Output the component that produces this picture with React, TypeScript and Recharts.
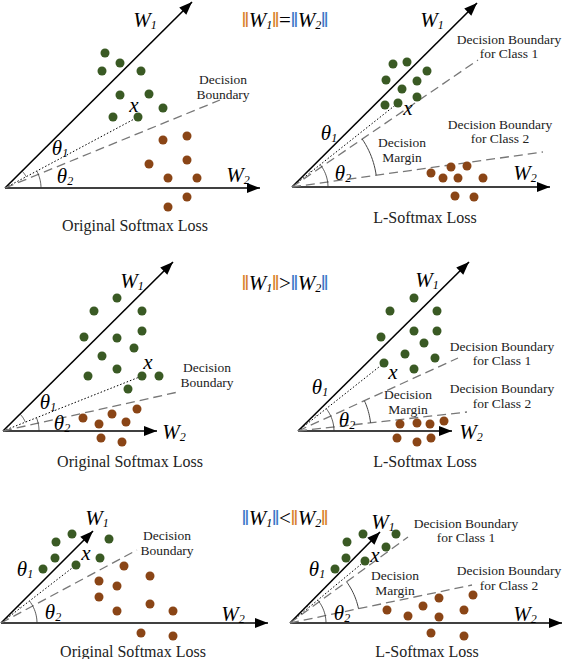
import React from 'react';
import { ScatterChart, Scatter, XAxis, YAxis } from 'recharts';

// Diagram drawn in a 571x659 pixel-space coordinate system
const GREEN = '#3a5a24';
const BROWN = '#8a4516';
const ORANGE = '#d9822b';
const BLUE = '#3c78c8';

const greenPoints = [
  // panel 1
  { x: 105, y: 53 }, { x: 120, y: 63 }, { x: 102, y: 71 }, { x: 141, y: 71 }, { x: 120, y: 95 },
  { x: 149, y: 94 }, { x: 163, y: 108 }, { x: 113, y: 117 }, { x: 138, y: 117 },
  // panel 2
  { x: 393, y: 64 }, { x: 407, y: 62 }, { x: 427, y: 71 }, { x: 386, y: 80 }, { x: 417, y: 81 },
  { x: 402, y: 89 }, { x: 417, y: 97 }, { x: 385, y: 105 }, { x: 398, y: 103 },
  // panel 3
  { x: 117, y: 298 }, { x: 94, y: 311 }, { x: 142, y: 311 }, { x: 142, y: 331 }, { x: 84, y: 337 },
  { x: 117, y: 338 }, { x: 134, y: 348 }, { x: 102, y: 356 }, { x: 117, y: 369 }, { x: 88, y: 376 },
  { x: 142, y: 376 }, { x: 159, y: 376 }, { x: 128, y: 389 },
  // panel 4
  { x: 414, y: 298 }, { x: 390, y: 311 }, { x: 437, y: 311 }, { x: 414, y: 331 }, { x: 437, y: 331 },
  { x: 381, y: 337 }, { x: 424, y: 343 }, { x: 405, y: 354 }, { x: 435, y: 358 }, { x: 384, y: 363 },
  { x: 414, y: 369 },
  // panel 5
  { x: 72, y: 534 }, { x: 56, y: 542 }, { x: 109, y: 539 }, { x: 55, y: 558 }, { x: 100, y: 558 },
  { x: 76, y: 565 }, { x: 43, y: 569 },
  // panel 6
  { x: 363, y: 534 }, { x: 347, y: 542 }, { x: 396, y: 534 }, { x: 386, y: 547 }, { x: 346, y: 558 },
  { x: 365, y: 561 }, { x: 335, y: 569 },
];

const brownPoints = [
  // panel 1
  { x: 163, y: 140 }, { x: 187, y: 136 }, { x: 187, y: 160 }, { x: 149, y: 164 }, { x: 168, y: 178 },
  { x: 197, y: 178 }, { x: 187, y: 197 }, { x: 168, y: 207 },
  // panel 2
  { x: 431, y: 173 }, { x: 451, y: 167 }, { x: 467, y: 166 }, { x: 443, y: 178 }, { x: 458, y: 178 },
  { x: 483, y: 178 }, { x: 455, y: 196 }, { x: 474, y: 197 },
  // panel 3
  { x: 137, y: 409 }, { x: 112, y: 414 }, { x: 83, y: 418 }, { x: 126, y: 422 }, { x: 99, y: 424 },
  { x: 101, y: 438 }, { x: 122, y: 442 },
  // panel 4
  { x: 400, y: 424 }, { x: 417, y: 423 }, { x: 430, y: 424 }, { x: 444, y: 421 }, { x: 397, y: 438 },
  { x: 417, y: 442 }, { x: 431, y: 438 },
  // panel 5
  { x: 124, y: 566 }, { x: 150, y: 576 }, { x: 99, y: 581 }, { x: 117, y: 586 }, { x: 99, y: 597 },
  { x: 117, y: 611 }, { x: 150, y: 604 }, { x: 173, y: 611 }, { x: 141, y: 633 }, { x: 173, y: 636 },
  // panel 6
  { x: 439, y: 598 }, { x: 473, y: 595 }, { x: 423, y: 606 }, { x: 387, y: 610 }, { x: 408, y: 616 },
  { x: 439, y: 617 }, { x: 464, y: 610 }, { x: 431, y: 633 }, { x: 464, y: 636 },
];

// origin, W1 tip, W2 tip, sample x, boundary ends, margin arc radius
const panels = [
  { o: { x: 5, y: 188 }, w1: { x: 192, y: 2 }, w2: { x: 260, y: 188 }, xp: { x: 138, y: 117 }, b: [{ x: 220, y: 100 }], m: 0 },
  { o: { x: 292, y: 187 }, w1: { x: 477, y: 3 }, w2: { x: 550, y: 187 }, xp: { x: 398, y: 103 }, b: [{ x: 478, y: 60 }, { x: 543, y: 152 }], m: 85 },
  { o: { x: 3, y: 431 }, w1: { x: 173, y: 262 }, w2: { x: 157, y: 431 }, xp: { x: 142, y: 376 }, b: [{ x: 178, y: 392 }], m: 0 },
  { o: { x: 298, y: 431 }, w1: { x: 469, y: 262 }, w2: { x: 452, y: 431 }, xp: { x: 384, y: 363 }, b: [{ x: 458, y: 358 }, { x: 467, y: 412 }], m: 73 },
  { o: { x: 1, y: 623 }, w1: { x: 93, y: 531 }, w2: { x: 268, y: 623 }, xp: { x: 76, y: 565 }, b: [{ x: 137, y: 550 }], m: 0 },
  { o: { x: 290, y: 623 }, w1: { x: 380, y: 532 }, w2: { x: 562, y: 623 }, xp: { x: 365, y: 561 }, b: [{ x: 408, y: 537 }, { x: 472, y: 585 }], m: 70 },
];

const plainLabels = [
  { x: 223, y: 79, t: 'Decision' }, { x: 223, y: 94, t: 'Boundary' },
  { x: 509, y: 39, t: 'Decision Boundary' }, { x: 509, y: 53, t: 'for Class 1' },
  { x: 500, y: 124, t: 'Decision Boundary' }, { x: 500, y: 138, t: 'for Class 2' },
  { x: 402, y: 142, t: 'Decision' }, { x: 402, y: 157, t: 'Margin' },
  { x: 207, y: 367, t: 'Decision' }, { x: 207, y: 382, t: 'Boundary' },
  { x: 502, y: 346, t: 'Decision Boundary' }, { x: 502, y: 360, t: 'for Class 1' },
  { x: 502, y: 388, t: 'Decision Boundary' }, { x: 502, y: 403, t: 'for Class 2' },
  { x: 408, y: 394, t: 'Decision' }, { x: 408, y: 409, t: 'Margin' },
  { x: 167, y: 535, t: 'Decision' }, { x: 167, y: 550, t: 'Boundary' },
  { x: 466, y: 523, t: 'Decision Boundary' }, { x: 466, y: 537, t: 'for Class 1' },
  { x: 509, y: 570, t: 'Decision Boundary' }, { x: 509, y: 585, t: 'for Class 2' },
  { x: 395, y: 575, t: 'Decision' }, { x: 395, y: 590, t: 'Margin' },
];

const titles = [
  { x: 135, y: 225, t: 'Original Softmax Loss' }, { x: 425, y: 217, t: 'L-Softmax Loss' },
  { x: 130, y: 461, t: 'Original Softmax Loss' }, { x: 425, y: 461, t: 'L-Softmax Loss' },
  { x: 133, y: 651, t: 'Original Softmax Loss' }, { x: 427, y: 651, t: 'L-Softmax Loss' },
];

const mathLabels = [
  { x: 145, y: 20, k: 'W', s: '1' }, { x: 238, y: 175, k: 'W', s: '2' },
  { x: 60, y: 148, k: 'θ', s: '1' }, { x: 65, y: 176, k: 'θ', s: '2' }, { x: 134, y: 105, k: 'x', s: '' },
  { x: 432, y: 20, k: 'W', s: '1' }, { x: 525, y: 173, k: 'W', s: '2' },
  { x: 329, y: 133, k: 'θ', s: '1' }, { x: 343, y: 173, k: 'θ', s: '2' }, { x: 408, y: 108, k: 'x', s: '' },
  { x: 132, y: 281, k: 'W', s: '1' }, { x: 174, y: 432, k: 'W', s: '2' },
  { x: 48, y: 402, k: 'θ', s: '1' }, { x: 62, y: 423, k: 'θ', s: '2' }, { x: 148, y: 362, k: 'x', s: '' },
  { x: 427, y: 280, k: 'W', s: '1' }, { x: 471, y: 432, k: 'W', s: '2' },
  { x: 320, y: 387, k: 'θ', s: '1' }, { x: 347, y: 420, k: 'θ', s: '2' }, { x: 393, y: 372, k: 'x', s: '' },
  { x: 97, y: 518, k: 'W', s: '1' }, { x: 233, y: 614, k: 'W', s: '2' },
  { x: 25, y: 569, k: 'θ', s: '1' }, { x: 53, y: 612, k: 'θ', s: '2' }, { x: 86, y: 553, k: 'x', s: '' },
  { x: 383, y: 522, k: 'W', s: '1' }, { x: 525, y: 614, k: 'W', s: '2' },
  { x: 317, y: 569, k: 'θ', s: '1' }, { x: 342, y: 613, k: 'θ', s: '2' }, { x: 375, y: 555, k: 'x', s: '' },
];

const headers = [
  { x: 285, y: 20, op: '=', c1: ORANGE, c2: BLUE },
  { x: 285, y: 283, op: '>', c1: ORANGE, c2: BLUE },
  { x: 285, y: 518, op: '<', c1: BLUE, c2: ORANGE },
];

const SERIF = '"Liberation Serif", "Times New Roman", Times, serif';

const arcPts = (o: any, r: number, p1: any, p2: any) => {
  const a1 = Math.atan2(p1.y - o.y, p1.x - o.x);
  const a2 = Math.atan2(p2.y - o.y, p2.x - o.x);
  const pts = [];
  for (let i = 0; i <= 12; i++) {
    const a = a1 + ((a2 - a1) * i) / 12;
    pts.push({ x: o.x + r * Math.cos(a), y: o.y + r * Math.sin(a) });
  }
  return pts;
};

const noDot = () => <g />;

const Arrow = (props: any) => {
  const { cx, cy, payload } = props;
  const ang = (Math.atan2(payload.y - payload.oy, payload.x - payload.ox) * 180) / Math.PI;
  return <polygon points="0,0 -13,-5 -13,5" fill="#000" transform={`translate(${cx},${cy}) rotate(${ang})`} />;
};

const Plain = (size: number) => (props: any) => (
  <text x={props.cx} y={props.cy} textAnchor="middle" dominantBaseline="central" fontFamily={SERIF} fontSize={size} fill="#222">
    {props.payload.t}
  </text>
);

const MathText = (props: any) => {
  const { cx, cy, payload } = props;
  return (
    <text x={cx} y={cy} textAnchor="middle" dominantBaseline="central" fontFamily={SERIF} fontSize={21} fontStyle="italic" fill="#000">
      {payload.k}
      {payload.s && <tspan fontSize={12} dy={5}>{payload.s}</tspan>}
    </text>
  );
};

const Header = (props: any) => {
  const { cx, cy, payload } = props;
  return (
    <text x={cx} y={cy} textAnchor="middle" dominantBaseline="central" fontFamily={SERIF} fontSize={21} fill="#000">
      <tspan fill={payload.c1} fontWeight="bold">‖</tspan>
      <tspan fontStyle="italic">W</tspan>
      <tspan fontStyle="italic" fontSize={12} dy={5}>1</tspan>
      <tspan fill={payload.c1} fontWeight="bold" dy={-5}>‖</tspan>
      <tspan>{payload.op}</tspan>
      <tspan fill={payload.c2} fontWeight="bold">‖</tspan>
      <tspan fontStyle="italic">W</tspan>
      <tspan fontStyle="italic" fontSize={12} dy={5}>2</tspan>
      <tspan fill={payload.c2} fontWeight="bold" dy={-5}>‖</tspan>
    </text>
  );
};

export default function App() {
  const segs: any[] = [];
  const arrowTips: any[] = [];
  panels.forEach((p, i) => {
    segs.push({ key: `w1-${i}`, data: [p.o, p.w1], line: { stroke: '#000', strokeWidth: 1.6 } });
    segs.push({ key: `w2-${i}`, data: [p.o, p.w2], line: { stroke: '#000', strokeWidth: 1.6 } });
    segs.push({ key: `xp-${i}`, data: [p.o, p.xp], line: { stroke: '#000', strokeWidth: 1, strokeDasharray: '1.5 2' } });
    p.b.forEach((b, j) =>
      segs.push({ key: `b-${i}-${j}`, data: [p.o, b], line: { stroke: '#777', strokeWidth: 1.3, strokeDasharray: '9 5' } })
    );
    arrowTips.push({ ...p.w1, ox: p.o.x, oy: p.o.y }, { ...p.w2, ox: p.o.x, oy: p.o.y });
    segs.push({ key: `t1-${i}`, data: arcPts(p.o, 24, p.w1, p.xp), line: { stroke: '#333', strokeWidth: 0.8 } });
    segs.push({ key: `t2-${i}`, data: arcPts(p.o, 36, p.xp, p.w2), line: { stroke: '#333', strokeWidth: 0.8 } });
    if (p.m) {
      segs.push({ key: `m-${i}`, data: arcPts(p.o, p.m, p.b[0], p.b[1]), line: { stroke: '#444', strokeWidth: 1 } });
    }
  });

  return (
    <div style={{ position: 'absolute', left: 0, top: 0, background: '#fff' }}>
      <ScatterChart width={571} height={659} margin={{ top: 0, right: 0, bottom: 0, left: 0 }}>
        <XAxis type="number" dataKey="x" domain={[0, 571]} hide />
        <YAxis type="number" dataKey="y" domain={[0, 659]} reversed hide width={0} />
        {segs.map(s => (
          <Scatter key={s.key} data={s.data} line={s.line} lineType="joint" shape={noDot} isAnimationActive={false} />
        ))}
        <Scatter data={arrowTips} shape={Arrow} isAnimationActive={false} />
        <Scatter data={greenPoints} fill={GREEN} shape={(p: any) => <circle cx={p.cx} cy={p.cy} r={4.5} fill={GREEN} />} isAnimationActive={false} />
        <Scatter data={brownPoints} fill={BROWN} shape={(p: any) => <circle cx={p.cx} cy={p.cy} r={4.5} fill={BROWN} />} isAnimationActive={false} />
        <Scatter data={plainLabels} shape={Plain(13.5)} isAnimationActive={false} />
        <Scatter data={titles} shape={Plain(16)} isAnimationActive={false} />
        <Scatter data={mathLabels} shape={MathText} isAnimationActive={false} />
        <Scatter data={headers} shape={Header} isAnimationActive={false} />
      </ScatterChart>
    </div>
  );
}
